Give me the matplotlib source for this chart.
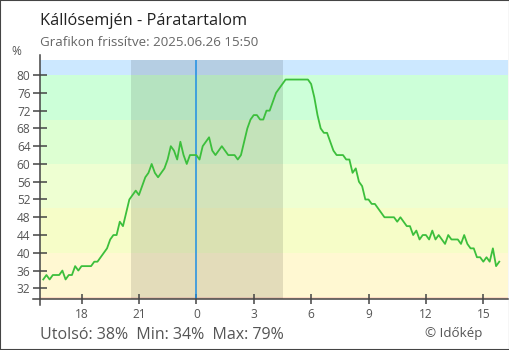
import matplotlib
matplotlib.use("Agg")
import matplotlib.pyplot as plt
from matplotlib.lines import Line2D
from matplotlib.patches import Rectangle
import numpy as np

plt.rcParams['font.family'] = ['Open Sans', 'DejaVu Sans']

# relative humidity, 10-minute readings from 16:00 (hours relative to midnight)
start_hour = -8.0
step_hours = 1 / 6
humidity = [
    34, 35, 34, 35, 35, 35, 36, 34, 35, 35, 37, 36, 37, 37, 37, 37, 38, 38, 39, 40,
    41, 43, 44, 44, 47, 46, 49, 52, 53, 54, 53, 55, 57, 58, 60, 58, 57, 58, 59, 61,
    64, 63, 61, 65, 62, 60, 62, 62, 62, 61, 64, 65, 66, 63, 62, 63, 64, 63, 62, 62,
    62, 61, 62, 65, 68, 70, 71, 71, 70, 70, 72, 72, 74, 76, 77, 78, 79, 79, 79, 79,
    79, 79, 79, 79, 78, 75, 71, 68, 67, 67, 65, 63, 62, 62, 62, 61, 61, 58, 59, 56,
    55, 52, 52, 51, 51, 50, 49, 48, 48, 48, 48, 47, 48, 47, 46, 46, 44, 45, 43, 44,
    44, 43, 45, 43, 44, 43, 42, 44, 43, 43, 43, 42, 44, 42, 41, 41, 39, 39, 38, 39,
    38, 41, 37, 38,
]
hours = start_hour + step_hours * np.arange(len(humidity))

# background bands by humidity range
band_edges = [0, 30, 40, 50, 60, 70, 80, 100]
band_colors = ['#fddcc4', '#fff8d2', '#f6fdc8', '#eeffd2', '#ddffd2', '#ccffd8', '#cce8ff']

night = (-3.41, 4.52)
xticks = [-6, -3, 0, 3, 6, 9, 12, 15]
xticklabels = ['18', '21', '0', '3', '6', '9', '12', '15']
yticks = list(range(32, 81, 4))

W, H = 510, 350
fig = plt.figure(figsize=(W / 100, H / 100), dpi=100)
ax = fig.add_axes([40 / W, 1 - 299 / H, 468 / W, 239 / H])

for lo, hi, c in zip(band_edges[:-1], band_edges[1:], band_colors):
    ax.axhspan(lo, hi, color=c, lw=0, zorder=0)
ax.axvspan(*night, color='black', alpha=0.11, lw=0, zorder=1)
ax.axvline(0, color='#1e8fe4', lw=1.1, zorder=2)

ax.plot(hours, humidity, color='#3cbf3c', lw=1.3, zorder=3)

ax.set_xlim(-8.17, 16.29)
ax.set_ylim(29.6, 83.4)
ax.set_xticks(xticks)
ax.set_xticklabels(xticklabels)
ax.set_yticks(yticks)
for s in ax.spines.values():
    s.set_visible(False)
ax.tick_params(axis='y', direction='inout', length=9.6, width=1.1, color='#444444',
               labelsize=8.6, labelcolor='#555555', pad=2)
ax.tick_params(axis='x', direction='inout', length=7.2, width=1.1, color='#444444',
               labelsize=8.6, labelcolor='#555555', pad=3)

# axis lines run slightly past the plot area
ax.add_line(Line2D([0, 0], [-6 / 239, 1 + 5 / 239], transform=ax.transAxes,
                   color='#444444', lw=1.1, clip_on=False, zorder=5))
ax.add_line(Line2D([-7 / 468, 1], [0, 0], transform=ax.transAxes,
                   color='#444444', lw=1.1, clip_on=False, zorder=5))

def px(x, y):
    return x / W, 1 - y / H

fig.text(*px(40, 25), 'Kállósemjén - Páratartalom', fontsize=11.8, color='#222222', va='baseline')
fig.text(*px(40, 45.5), 'Grafikon frissítve: 2025.06.26 15:50', fontsize=9.6,
         color='#666666', va='baseline')
fig.text(*px(16, 55), '%', fontsize=8.6, color='#555555', ha='center', va='baseline')
fig.text(*px(40, 339), 'Utolsó: 38%  Min: 34%  Max: 79%', fontsize=11.5,
         color='#555555', va='baseline')
fig.text(*px(482, 336.5), '© Időkép', fontsize=9.6, color='#555555', ha='right', va='baseline')

fig.add_artist(Rectangle((0, 0), 1, 1, transform=fig.transFigure, fill=False,
                         edgecolor='#444444', lw=1.5))

fig.savefig('out.png', dpi=100)
